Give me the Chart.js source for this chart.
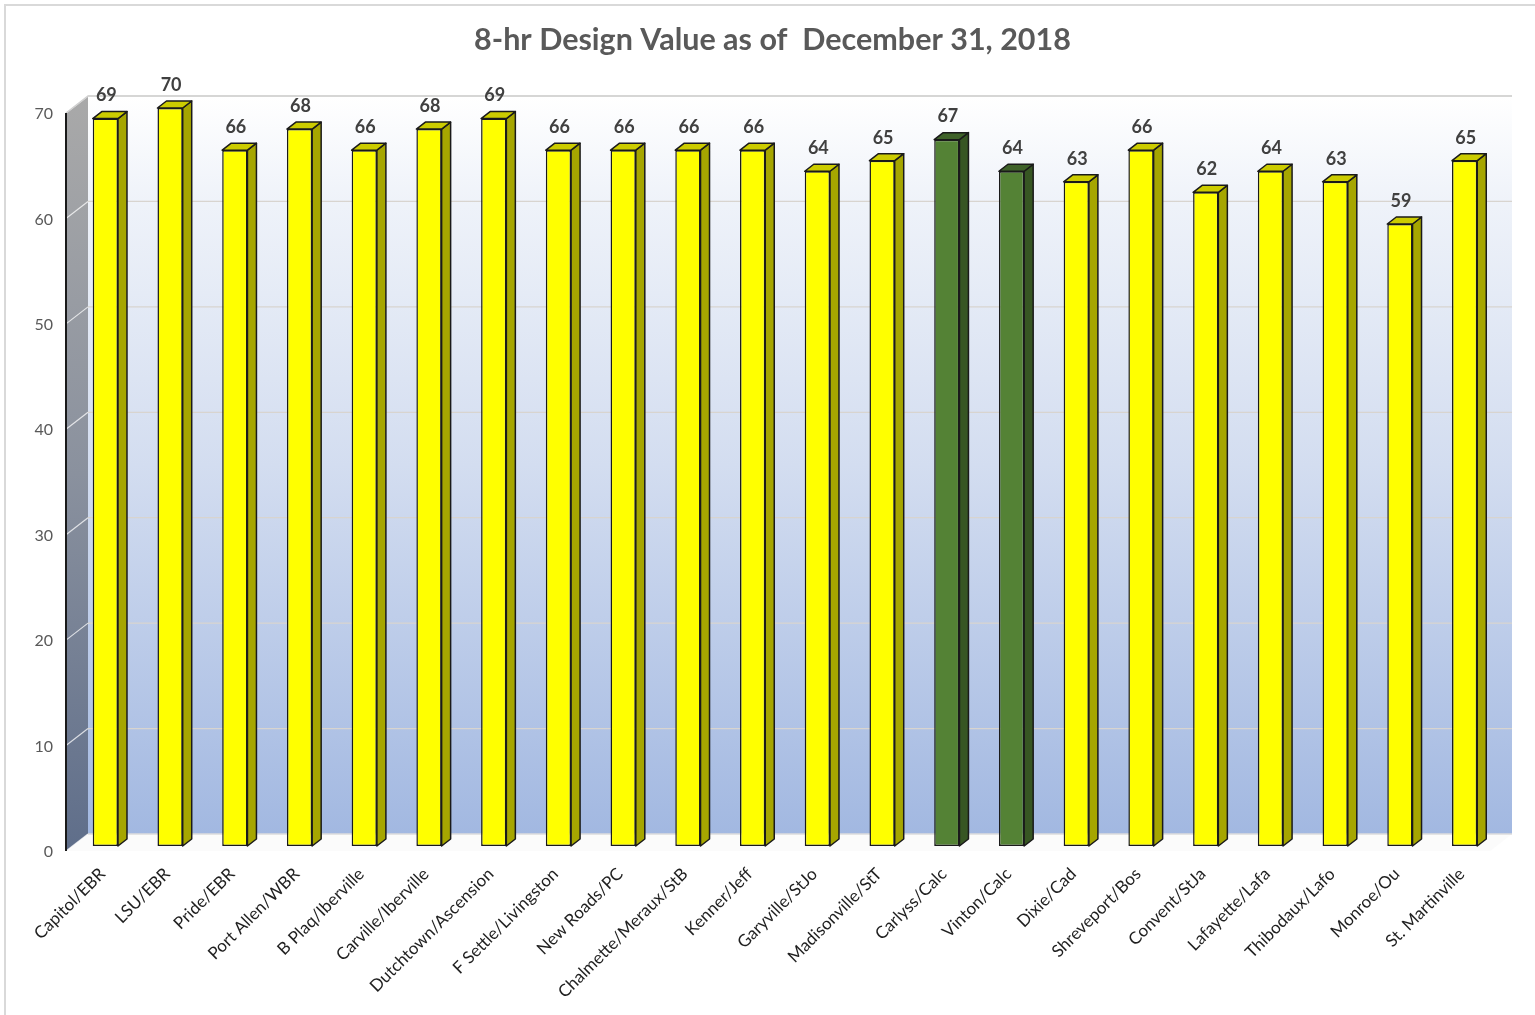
<!DOCTYPE html>
<html>
<head>
<meta charset="utf-8">
<script src="https://cdn.jsdelivr.net/npm/chart.js@4/dist/chart.umd.min.js"></script>
<style>
  html, body { margin: 0; padding: 0; background: #fff; overflow: hidden; }
  #wrap { position: relative; width: 1535px; height: 1015px; }
</style>
</head>
<body>
<div id="wrap"><canvas id="chart"></canvas></div>
<script>
// Monitoring sites and their 8-hr ozone design values (ppb)
const sites = [
  'Capitol/EBR', 'LSU/EBR', 'Pride/EBR', 'Port Allen/WBR', 'B Plaq/Iberville',
  'Carville/Iberville', 'Dutchtown/Ascension', 'F Settle/Livingston', 'New Roads/PC',
  'Chalmette/Meraux/StB', 'Kenner/Jeff', 'Garyville/StJo', 'Madisonville/StT',
  'Carlyss/Calc', 'Vinton/Calc', 'Dixie/Cad', 'Shreveport/Bos', 'Convent/StJa',
  'Lafayette/Lafa', 'Thibodaux/Lafo', 'Monroe/Ou', 'St. Martinville'
];
const designValues = [69, 70, 66, 68, 66, 68, 69, 66, 66, 66, 66, 64, 65, 67, 64, 63, 66, 62, 64, 63, 59, 65];
// Sites drawn in green
const highlightedSites = ['Carlyss/Calc', 'Vinton/Calc'];
// Value axis
const yMin = 0, yMax = 70, yStep = 10;
const chartTitle = '8-hr Design Value as of  December 31, 2018';

// Faux-3D geometry (pixel offsets relative to the bar plane)
const FRONT = { dx: -7, dy: 5 };     // front plane of the walls
const BACK = { dx: 15, dy: -12 };    // back wall plane
const DEPTH = { dx: 9, dy: -7 };     // bar depth

const FACE = {
  yellow: { front: '#ffff00', side: '#a6a600', top: '#cccc00' },
  green:  { front: '#548235', side: '#375623', top: '#3f6229' }
};
const paletteFor = name => highlightedSites.includes(name) ? FACE.green : FACE.yellow;

function poly(ctx, pts) {
  ctx.beginPath();
  ctx.moveTo(pts[0], pts[1]);
  for (let i = 2; i < pts.length; i += 2) ctx.lineTo(pts[i], pts[i + 1]);
  ctx.closePath();
}

const scenePlugin = {
  id: 'scene',
  beforeDraw(chart) {
    const { ctx, width, height } = chart;
    ctx.save();
    ctx.fillStyle = '#ffffff';
    ctx.fillRect(0, 0, width, height);
    ctx.strokeStyle = '#d9d9d9';
    ctx.lineWidth = 2;
    ctx.beginPath();
    ctx.moveTo(5, height + 5);
    ctx.lineTo(5, 5);
    ctx.lineTo(width + 5, 5);
    ctx.stroke();

    // chart title
    ctx.font = 'bold 30.5px Lato';
    ctx.fillStyle = '#595959';
    ctx.textAlign = 'center';
    ctx.textBaseline = 'middle';
    ctx.fillText(chartTitle, width / 2 + 5, 40);
    ctx.restore();
  },
  beforeDatasetsDraw(chart) {
    const { ctx, chartArea: a, scales: { y } } = chart;
    const fx0 = a.left + FRONT.dx, fx1 = a.right + FRONT.dx;
    const fyT = a.top + FRONT.dy, fyB = a.bottom + FRONT.dy;
    const bx0 = a.left + BACK.dx, bx1 = a.right + BACK.dx;
    const byT = a.top + BACK.dy, byB = a.bottom + BACK.dy;
    ctx.save();

    // floor
    ctx.fillStyle = '#fbfbfb';
    poly(ctx, [fx0, fyB, fx1, fyB, bx1, byB, bx0, byB]);
    ctx.fill();

    // back wall
    const g = ctx.createLinearGradient(0, byT, 0, byB);
    g.addColorStop(0, '#ffffff');
    g.addColorStop(0.15, '#eef2f9');
    g.addColorStop(0.5, '#d3ddf0');
    g.addColorStop(1, '#a2b8e1');
    ctx.fillStyle = g;
    ctx.fillRect(bx0, byT, bx1 - bx0, byB - byT);

    // side wall
    const lg = ctx.createLinearGradient(0, byT, 0, fyB);
    lg.addColorStop(0, '#a9a9a9');
    lg.addColorStop(0.5, '#8a919e');
    lg.addColorStop(1, '#5f6e8a');
    ctx.fillStyle = lg;
    poly(ctx, [fx0, fyT, bx0, byT, bx0, byB, fx0, fyB]);
    ctx.fill();

    // gridlines on back and side walls
    ctx.lineWidth = 1.2;
    y.ticks.forEach(t => {
      const py = y.getPixelForValue(t.value);
      if (t.value > yMin) {
        ctx.strokeStyle = '#d8d4cf';
        ctx.beginPath();
        ctx.moveTo(bx0, py + BACK.dy);
        ctx.lineTo(bx1, py + BACK.dy);
        ctx.stroke();
      }
      ctx.strokeStyle = 'rgba(255,255,255,0.75)';
      ctx.beginPath();
      ctx.moveTo(fx0, py + FRONT.dy);
      ctx.lineTo(bx0, py + BACK.dy);
      ctx.stroke();
    });

    // wall edges
    ctx.strokeStyle = '#d0d0d0';
    ctx.lineWidth = 1.5;
    ctx.beginPath();
    ctx.moveTo(fx0, fyT);
    ctx.lineTo(bx0, byT);
    ctx.lineTo(bx1, byT);
    ctx.stroke();
    ctx.strokeStyle = '#dcdcdc';
    ctx.beginPath();
    ctx.moveTo(bx0, byB);
    ctx.lineTo(bx1, byB);
    ctx.stroke();

    // value axis line
    ctx.strokeStyle = '#1a1a1a';
    ctx.lineWidth = 2;
    ctx.beginPath();
    ctx.moveTo(fx0, fyT);
    ctx.lineTo(fx0, fyB);
    ctx.stroke();

    // bar side and top faces
    const meta = chart.getDatasetMeta(0);
    ctx.lineWidth = 1.5;
    ctx.strokeStyle = '#1a1a1a';
    ctx.lineJoin = 'round';
    meta.data.forEach((bar, i) => {
      const p = paletteFor(sites[i]);
      const x1 = bar.x - bar.width / 2, x2 = bar.x + bar.width / 2;
      const top = bar.y, bottom = bar.base;
      ctx.fillStyle = p.side;
      poly(ctx, [x2, top, x2 + DEPTH.dx, top + DEPTH.dy, x2 + DEPTH.dx, bottom + DEPTH.dy, x2, bottom]);
      ctx.fill();
      ctx.stroke();
      ctx.fillStyle = p.top;
      poly(ctx, [x1, top, x2, top, x2 + DEPTH.dx, top + DEPTH.dy, x1 + DEPTH.dx, top + DEPTH.dy]);
      ctx.fill();
      ctx.stroke();
    });
    ctx.restore();
  },
  afterDatasetsDraw(chart) {
    const { ctx } = chart;
    const meta = chart.getDatasetMeta(0);
    ctx.save();
    ctx.font = 'bold 18px Lato';
    ctx.fillStyle = '#404040';
    ctx.textAlign = 'center';
    ctx.textBaseline = 'middle';
    meta.data.forEach((bar, i) => {
      ctx.fillText(String(designValues[i]), bar.x + 1, bar.y - 23);
    });
    ctx.restore();
  }
};

new Chart(document.getElementById('chart'), {
  type: 'bar',
  data: {
    labels: sites,
    datasets: [{
      data: designValues,
      backgroundColor: sites.map(s => paletteFor(s).front),
      borderColor: '#1a1a1a',
      borderWidth: 1.5,
      borderSkipped: false,
      barPercentage: 0.39,
      categoryPercentage: 1.0
    }]
  },
  options: {
    responsive: true,
    maintainAspectRatio: false,
    animation: false,
    layout: { padding: { left: 0, right: 38, top: 108, bottom: 0 } },
    plugins: {
      legend: { display: false },
      tooltip: { enabled: false },
      title: { display: false }
    },
    scales: {
      x: {
        grid: { display: false, drawTicks: false },
        border: { display: false },
        ticks: {
          color: '#1f1f1f',
          font: { family: 'Lato', size: 17 },
          minRotation: 45,
          maxRotation: 45,
          autoSkip: false,
          padding: 18,
          labelOffset: -3
        },
        afterFit(scale) { scale.height = 169; }
      },
      y: {
        min: yMin,
        max: yMax,
        grid: { display: false, drawTicks: false },
        border: { display: false },
        ticks: {
          stepSize: yStep,
          color: '#595959',
          font: { family: 'Lato', size: 16 },
          padding: 20,
          labelOffset: 6
        },
        afterFit(scale) { scale.width = 73; }
      }
    }
  },
  plugins: [scenePlugin]
});
</script>
</body>
</html>
